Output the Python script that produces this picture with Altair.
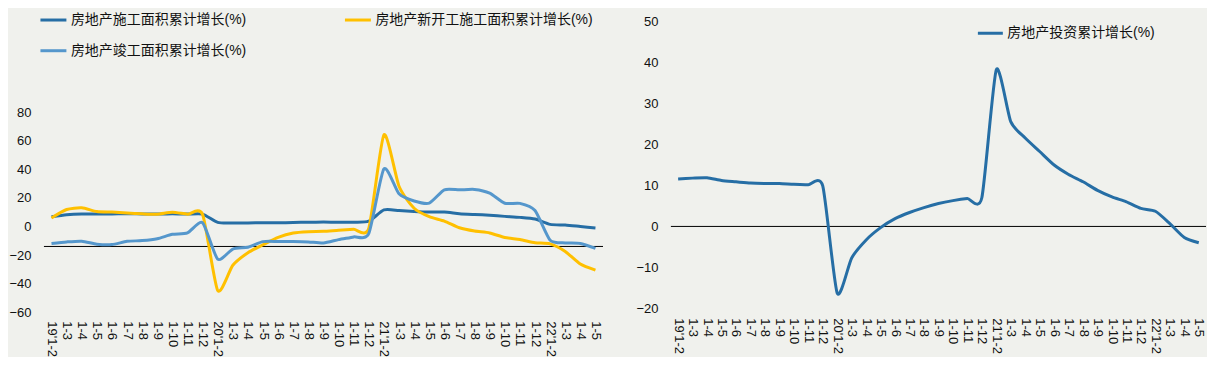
import json
import altair as alt
import pandas as pd

# ---------------- data ----------------
categories = [
    "19'1-2", "1-3", "1-4", "1-5", "1-6", "1-7", "1-8", "1-9", "1-10", "1-11", "1-12",
    "20'1-2", "1-3", "1-4", "1-5", "1-6", "1-7", "1-8", "1-9", "1-10", "1-11", "1-12",
    "21'1-2", "1-3", "1-4", "1-5", "1-6", "1-7", "1-8", "1-9", "1-10", "1-11", "1-12",
    "22'1-2", "1-3", "1-4", "1-5",
]

construction_area = [6.8, 8.2, 8.8, 8.8, 8.8, 9.0, 8.8, 8.7, 9.0, 8.7, 8.7,
                     2.9, 2.5, 2.5, 2.6, 2.6, 2.8, 3.0, 3.1, 3.0, 3.0, 3.7,
                     11.6, 11.2, 10.5, 10.1, 10.2, 9.0, 8.4, 7.9, 7.1, 6.4, 5.2,
                     1.5, 1.0, 0.0, -1.0]
new_starts_area = [6.0, 11.9, 13.1, 10.5, 10.1, 9.5, 8.9, 8.6, 10.0, 8.6, 8.5,
                   -44.9, -27.2, -18.4, -12.8, -7.6, -4.5, -3.6, -3.4, -2.6, -2.0, -1.2,
                   64.3, 28.2, 12.8, 6.9, 3.8, -0.9, -3.2, -4.5, -7.7, -9.1, -11.4,
                   -12.2, -17.5, -26.3, -30.6]
completed_area = [-11.9, -10.8, -10.3, -12.4, -12.7, -10.4, -9.9, -8.6, -5.5, -4.5, 2.6,
                  -22.9, -15.8, -14.5, -10.6, -10.5, -10.5, -10.8, -11.6, -9.2, -7.3, -4.9,
                  40.4, 22.9, 17.9, 16.4, 25.7, 25.7, 26.0, 23.4, 16.3, 16.2, 11.2,
                  -9.6, -11.5, -11.9, -15.3]
investment = [11.6, 11.8, 11.9, 11.2, 10.9, 10.6, 10.5, 10.5, 10.3, 10.2, 9.9,
              -16.3, -7.7, -3.3, -0.3, 1.9, 3.4, 4.6, 5.6, 6.3, 6.8, 7.0,
              38.3, 25.6, 21.6, 18.3, 15.0, 12.7, 10.9, 8.8, 7.2, 6.0, 4.4,
              3.7, 0.7, -2.7, -4.0]

left_series = ["房地产施工面积累计增长(%)", "房地产新开工施工面积累计增长(%)", "房地产竣工面积累计增长(%)"]
left_colors = ["#266EA5", "#FFC000", "#5597CC"]
right_series = ["房地产投资累计增长(%)"]
right_colors = ["#266EA5"]

left_ticks = [-60, -40, -20, 0, 20, 40, 60, 80]
right_ticks = [-20, -10, 0, 10, 20, 30, 40, 50]
left_cross = [-14]
right_cross = [0]

# ---------------- tables ----------------
def long_table(names, arrays):
    rows = []
    for name, vals in zip(names, arrays):
        for i, v in enumerate(vals):
            rows.append({"idx": i, "cat": categories[i], "series": name, "value": v})
    return pd.DataFrame(rows)

left_df = long_table(left_series, [construction_area, new_starts_area, completed_area])
right_df = long_table(right_series, [investment])

FONT = "Liberation Sans, Noto Sans CJK SC"
TXT = "#111111"
BG = "#F0F1ED"
TENSION = 0.35
label_expr = json.dumps(categories) + "[datum.value]"


def x_enc(pad):
    return alt.X(
        "idx:O",
        scale=alt.Scale(type="point", padding=0.5),
        axis=alt.Axis(title=None, labelExpr=label_expr, labelAngle=90, labelAlign="left",
                      labelBaseline="middle", labelPadding=pad, ticks=False, domain=False,
                      grid=False, labelOverlap=False, labelFontSize=13, labelFont=FONT,
                      labelColor=TXT),
    )


def y_scale(dom):
    return alt.Scale(domain=dom, nice=False, zero=False)


def y_axis(vals):
    return alt.Axis(title=None, values=vals, ticks=False, domain=False, grid=False,
                    labelPadding=13, labelFontSize=13, labelFont=FONT, labelColor=TXT)


# ---------------- left panel ----------------
left_dom = [-60.5, 148.1]
left_rule = alt.Chart(pd.DataFrame({"v": left_cross})).mark_rule(color="black", strokeWidth=1).encode(
    y=alt.Y("v:Q", scale=y_scale(left_dom), axis=y_axis(left_ticks))
)
left_lines = alt.Chart(left_df).mark_line(strokeWidth=3, interpolate="cardinal", tension=TENSION).encode(
    x=x_enc(8),
    y=alt.Y("value:Q", scale=y_scale(left_dom), axis=y_axis(left_ticks)),
    color=alt.Color("series:N", sort=left_series,
                    scale=alt.Scale(domain=left_series, range=left_colors),
                    legend=alt.Legend(title=None, orient="none", legendX=-5, legendY=-10,
                                      columns=2, direction="horizontal", columnPadding=92,
                                      rowPadding=9, symbolType="stroke", symbolSize=676,
                                      symbolStrokeWidth=3, labelFontSize=14, labelFont=FONT,
                                      labelColor=TXT, labelOffset=3, labelLimit=400)),
)
left = alt.layer(left_rule, left_lines).properties(width=560, height=298)

# ---------------- right panel ----------------
right_dom = [-21.097, 51.585]
right_rule = alt.Chart(pd.DataFrame({"v": right_cross})).mark_rule(color="black", strokeWidth=1).encode(
    y=alt.Y("v:Q", scale=y_scale(right_dom), axis=y_axis(right_ticks))
)
right_lines = alt.Chart(right_df).mark_line(strokeWidth=3, interpolate="cardinal", tension=TENSION).encode(
    x=x_enc(5),
    y=alt.Y("value:Q", scale=y_scale(right_dom), axis=y_axis(right_ticks)),
    color=alt.Color("series:N",
                    scale=alt.Scale(domain=right_series, range=right_colors),
                    legend=alt.Legend(title=None, orient="none", legendX=306, legendY=4,
                                      symbolType="stroke", symbolSize=625,
                                      symbolStrokeWidth=3, labelFontSize=14, labelFont=FONT,
                                      labelColor=TXT, labelOffset=3, labelLimit=400)),
)
right = alt.layer(right_rule, right_lines).properties(width=536, height=298)

chart = (
    alt.hconcat(left, right, spacing=68, bounds="flush")
    .resolve_scale(color="independent", x="independent", y="independent")
    .resolve_legend(color="independent")
    .properties(padding={"top": -3, "left": 0, "right": 0, "bottom": 0}, background=BG)
    .configure_view(stroke=None)
)

chart.save("out.html", embed_options={"renderer": "svg", "actions": False})
